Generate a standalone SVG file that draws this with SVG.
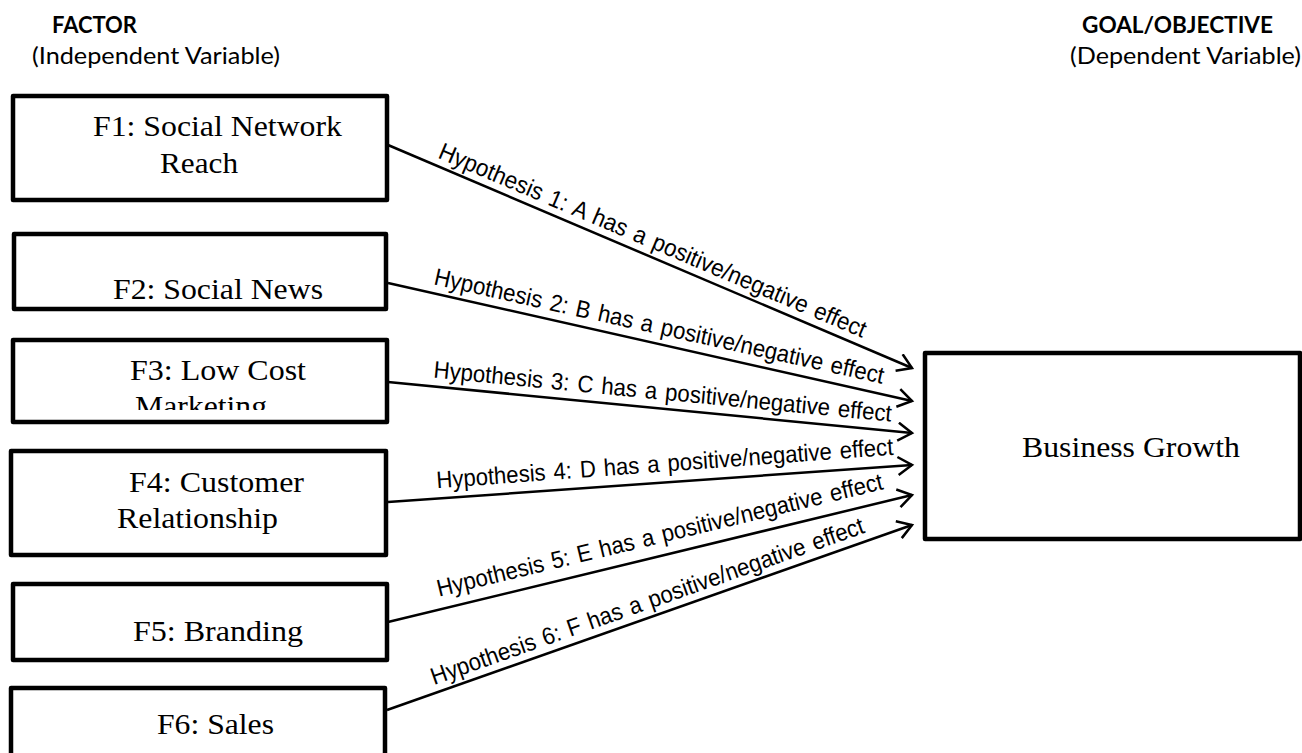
<svg xmlns="http://www.w3.org/2000/svg" width="1302" height="753" viewBox="0 0 1302 753">
<style>
.box{fill:#fff;stroke:#000;stroke-width:4.5;stroke-linejoin:round}
.lbl{font-family:"Liberation Serif","Times New Roman",serif;font-size:30px;fill:#000}
.hdr{font-family:Lato,"Liberation Sans",sans-serif;font-size:24px;fill:#000}
.hdrb{font-family:Lato,"Liberation Sans",sans-serif;font-size:23.5px;font-weight:bold;fill:#000}
.conn{stroke:#000;stroke-width:2.5;fill:none}
.hyp{font-family:"Liberation Sans",Arial,sans-serif;font-size:24px;fill:#000;word-spacing:2px}
</style>
<defs>
<marker id="arr" markerUnits="userSpaceOnUse" markerWidth="22" markerHeight="22" refX="16" refY="10" orient="auto">
<path d="M2,1 L16,10 L2,19" fill="none" stroke="#000" stroke-width="2.5"/>
</marker>
<clipPath id="clipF3"><rect x="15" y="342" width="370" height="68"/></clipPath>
</defs>
<rect width="1302" height="753" fill="#fff"/>
<g id="headers">
<text class="hdrb" x="52" y="33" textLength="85" lengthAdjust="spacingAndGlyphs">FACTOR</text>
<text class="hdr" x="32" y="64" textLength="248" lengthAdjust="spacingAndGlyphs">(Independent Variable)</text>
<text class="hdrb" x="1082" y="33" textLength="191" lengthAdjust="spacingAndGlyphs">GOAL/OBJECTIVE</text>
<text class="hdr" x="1070" y="64" textLength="231" lengthAdjust="spacingAndGlyphs">(Dependent Variable)</text>
</g>
<g id="connectors">
<path class="conn" d="M388,145 L912,368" marker-end="url(#arr)"/>
<path class="conn" d="M388,283 L912,401" marker-end="url(#arr)"/>
<path class="conn" d="M388,382 L912,433" marker-end="url(#arr)"/>
<path class="conn" d="M388,502 L912,465" marker-end="url(#arr)"/>
<path class="conn" d="M388,622 L912,495" marker-end="url(#arr)"/>
<path class="conn" d="M387,710 L912,525" marker-end="url(#arr)"/>
<text class="hyp" transform="translate(437,157.5) rotate(23)" textLength="462" lengthAdjust="spacingAndGlyphs">Hypothesis 1: A has a positive/negative effect</text>
<text class="hyp" transform="translate(433,284.3) rotate(12.5)" textLength="460" lengthAdjust="spacingAndGlyphs">Hypothesis 2: B has a positive/negative effect</text>
<text class="hyp" transform="translate(433,377.6) rotate(5.5)" textLength="460" lengthAdjust="spacingAndGlyphs">Hypothesis 3: C has a positive/negative effect</text>
<text class="hyp" transform="translate(437,488.3) rotate(-4.2)" textLength="458" lengthAdjust="spacingAndGlyphs">Hypothesis 4: D has a positive/negative effect</text>
<text class="hyp" transform="translate(439,596.7) rotate(-13.6)" textLength="458" lengthAdjust="spacingAndGlyphs">Hypothesis 5: E has a positive/negative effect</text>
<text class="hyp" transform="translate(434,685) rotate(-19.45)" textLength="458" lengthAdjust="spacingAndGlyphs">Hypothesis 6: F has a positive/negative effect</text>
</g>
<g id="F1">
<rect class="box" x="13" y="96" width="374" height="104"/>
<text class="lbl" x="93" y="136" textLength="249" lengthAdjust="spacingAndGlyphs">F1: Social Network</text>
<text class="lbl" x="160" y="173" textLength="78" lengthAdjust="spacingAndGlyphs">Reach</text>
</g>
<g id="F2">
<rect class="box" x="14" y="234" width="372" height="75"/>
<text class="lbl" x="113" y="299" textLength="210" lengthAdjust="spacingAndGlyphs">F2: Social News</text>
</g>
<g id="F3">
<rect class="box" x="13" y="340" width="374" height="82"/>
<text class="lbl" x="130" y="380" textLength="176" lengthAdjust="spacingAndGlyphs">F3: Low Cost</text>
<text class="lbl" x="135" y="416" textLength="132" lengthAdjust="spacingAndGlyphs" clip-path="url(#clipF3)">Marketing</text>
</g>
<g id="F4">
<rect class="box" x="11" y="451" width="375" height="104"/>
<text class="lbl" x="129" y="492" textLength="175" lengthAdjust="spacingAndGlyphs">F4: Customer</text>
<text class="lbl" x="117" y="528" textLength="161" lengthAdjust="spacingAndGlyphs">Relationship</text>
</g>
<g id="F5">
<rect class="box" x="13" y="584" width="374" height="76"/>
<text class="lbl" x="133" y="641" textLength="170" lengthAdjust="spacingAndGlyphs">F5: Branding</text>
</g>
<g id="F6">
<rect class="box" x="11" y="688" width="374" height="100"/>
<text class="lbl" x="157" y="734" textLength="117" lengthAdjust="spacingAndGlyphs">F6: Sales</text>
</g>
<g id="BG">
<rect class="box" x="925" y="353" width="375" height="186"/>
<text class="lbl" x="1022" y="457" textLength="218" lengthAdjust="spacingAndGlyphs">Business Growth</text>
</g>
</svg>
